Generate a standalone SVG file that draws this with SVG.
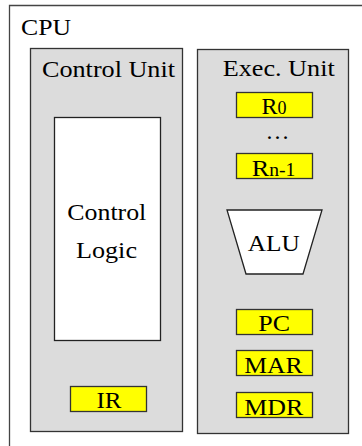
<svg xmlns="http://www.w3.org/2000/svg" width="362" height="446" viewBox="0 0 362 446">
<style>
.unit{fill:#dcdcdc;stroke:#333;stroke-width:1.3}
.reg{fill:#ffff00;stroke:#333;stroke-width:1.3}
.white{fill:#fff;stroke:#222;stroke-width:1.3}
</style>
<rect width="362" height="446" fill="#fff"/>
<g id="cpu">
<path d="M9.5,446 V5.5 H362" fill="none" stroke="#444" stroke-width="1.3"/>
<text x="21" y="35" font-family="Times New Roman" font-size="24" textLength="50" lengthAdjust="spacingAndGlyphs">CPU</text>
</g>
<g id="control-unit">
<rect class="unit" x="30.5" y="48.5" width="152" height="383"/>
<text x="42" y="77" font-family="Times New Roman" font-size="24" textLength="133" lengthAdjust="spacingAndGlyphs">Control Unit</text>
</g>
<g id="control-logic">
<rect class="white" x="54.5" y="117.5" width="106" height="223"/>
<text x="67.3" y="219.5" font-family="Times New Roman" font-size="24" textLength="79" lengthAdjust="spacingAndGlyphs">Control</text>
<text x="76" y="258" font-family="Times New Roman" font-size="24" textLength="61" lengthAdjust="spacingAndGlyphs">Logic</text>
</g>
<g id="ir">
<rect class="reg" x="70.5" y="386.5" width="76" height="25"/>
<text x="96.5" y="408" font-family="Times New Roman" font-size="24" textLength="25" lengthAdjust="spacingAndGlyphs">IR</text>
</g>
<g id="exec-unit">
<rect class="unit" x="197.5" y="49.5" width="151" height="384"/>
<text x="222.7" y="76" font-family="Times New Roman" font-size="24" textLength="112" lengthAdjust="spacingAndGlyphs">Exec. Unit</text>
</g>
<g id="r0">
<rect class="reg" x="236.5" y="92.5" width="76" height="25"/>
<text x="261.5" y="114.3" font-family="Times New Roman" font-size="24">R<tspan font-size="18">0</tspan></text>
</g>
<g id="dots">
<text x="265.5" y="139" font-family="Times New Roman" font-size="24">…</text>
</g>
<g id="rn1">
<rect class="reg" x="236.5" y="153.5" width="76" height="25"/>
<text x="251.7" y="175.7" font-family="Times New Roman" font-size="24" textLength="43.6" lengthAdjust="spacingAndGlyphs">R<tspan font-size="18">n-1</tspan></text>
</g>
<g id="alu">
<polygon class="white" points="227,210 322,210 303,274 246,274"/>
<text x="247.7" y="250.7" font-family="Times New Roman" font-size="24" textLength="52" lengthAdjust="spacingAndGlyphs">ALU</text>
</g>
<g id="pc">
<rect class="reg" x="236.5" y="309.5" width="76" height="25"/>
<text x="258.3" y="331.3" font-family="Times New Roman" font-size="24" textLength="31.7" lengthAdjust="spacingAndGlyphs">PC</text>
</g>
<g id="mar">
<rect class="reg" x="236.5" y="350.5" width="76" height="25"/>
<text x="244.3" y="373" font-family="Times New Roman" font-size="24" textLength="58.4" lengthAdjust="spacingAndGlyphs">MAR</text>
</g>
<g id="mdr">
<rect class="reg" x="236.5" y="392.5" width="76" height="25"/>
<text x="244.3" y="414.7" font-family="Times New Roman" font-size="24" textLength="59" lengthAdjust="spacingAndGlyphs">MDR</text>
</g>
<g id="connectors"/>
</svg>
